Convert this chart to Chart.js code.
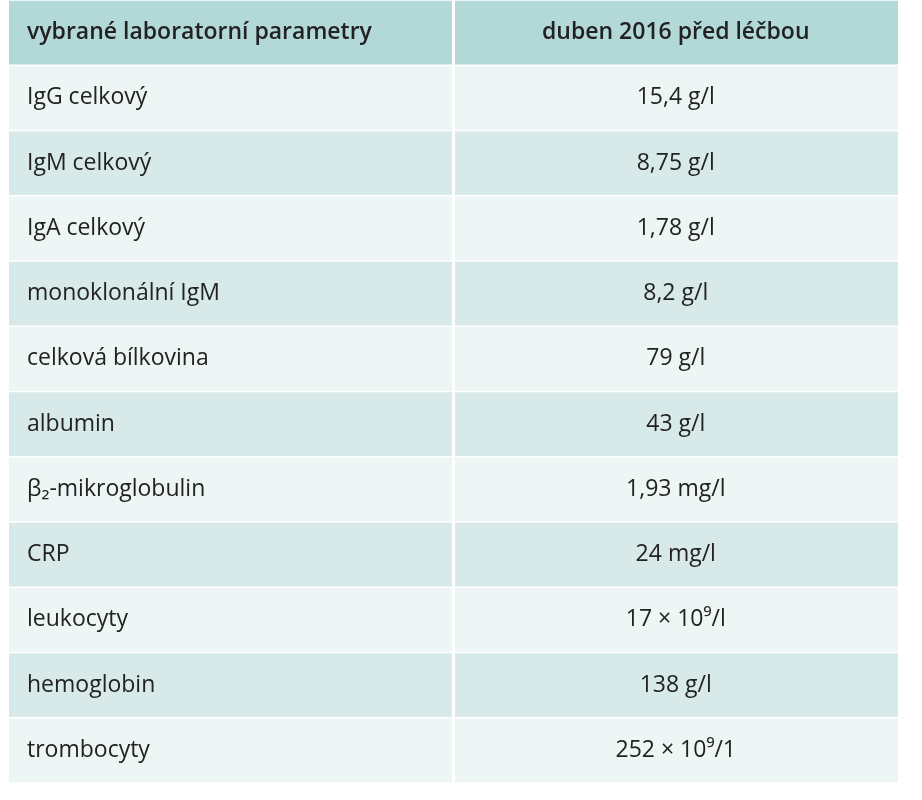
<!DOCTYPE html>
<html>
<head>
<meta charset="utf-8">
<script src="https://cdn.jsdelivr.net/npm/chart.js@4"></script>
<style>
  body { margin: 0; background: #fff; }
  #wrap { width: 922px; height: 800px; position: relative; }
</style>
</head>
<body>
<div id="wrap"><canvas id="tbl"></canvas></div>
<script>
// table content
const headers = ['vybrané laboratorní parametry', 'duben 2016 před léčbou'];
const params = ['IgG celkový', 'IgM celkový', 'IgA celkový', 'monoklonální IgM', 'celková bílkovina',
  'albumin', 'β₂-mikroglobulin', 'CRP', 'leukocyty', 'hemoglobin', 'trombocyty'];
const values = ['15,4 g/l', '8,75 g/l', '1,78 g/l', '8,2 g/l', '79 g/l', '43 g/l', '1,93 mg/l',
  '24 mg/l', '17 × 10⁹/l', '138 g/l', '252 × 10⁹/1'];

const rows = ['header', ...params];
const rowColors = rows.map((r, i) => i === 0 ? '#b2d8d8' : (i % 2 === 1 ? '#edf5f5' : '#d7e9e9'));

const FONT = '"Open Sans", "Noto Sans", sans-serif';

const cellText = {
    id: 'cellText',
    afterDatasetsDraw(chart) {
        const { ctx, scales: { x, y } } = chart;
        const xDiv = x.getPixelForValue(1);
        ctx.save();
        // column divider
        ctx.strokeStyle = '#ffffff';
        ctx.lineWidth = 3;
        ctx.beginPath();
        ctx.moveTo(xDiv, chart.chartArea.top);
        ctx.lineTo(xDiv, chart.chartArea.bottom);
        ctx.stroke();

        ctx.fillStyle = '#222';
        ctx.textBaseline = 'middle';
        rows.forEach((r, i) => {
            const py = y.getPixelForValue(i);
            const left = i === 0 ? headers[0] : params[i - 1];
            const right = i === 0 ? headers[1] : values[i - 1];
            ctx.font = (i === 0 ? '600 ' : '') + '23px ' + FONT;
            ctx.textAlign = 'left';
            ctx.fillText(left, x.getPixelForValue(0) + 18, py);
            ctx.textAlign = 'center';
            ctx.fillText(right, x.getPixelForValue(1.5), py);
        });
        ctx.restore();
    }
};

new Chart(document.getElementById('tbl'), {
    type: 'bar',
    data: {
        labels: rows,
        datasets: [{
            data: rows.map(() => [0, 2]),
            backgroundColor: rowColors,
            borderColor: '#ffffff',
            borderWidth: { top: 1, bottom: 1, left: 0, right: 0 },
            borderSkipped: false,
            barPercentage: 1,
            categoryPercentage: 1
        }]
    },
    options: {
        indexAxis: 'y',
        responsive: true,
        maintainAspectRatio: false,
        animation: false,
        layout: { padding: { left: 9, right: 24, top: 0, bottom: 17 } },
        scales: {
            x: { display: false, min: 0, max: 2 },
            y: { display: false }
        },
        plugins: { legend: { display: false }, tooltip: { enabled: false } }
    },
    plugins: [cellText]
});
</script>
</body>
</html>
